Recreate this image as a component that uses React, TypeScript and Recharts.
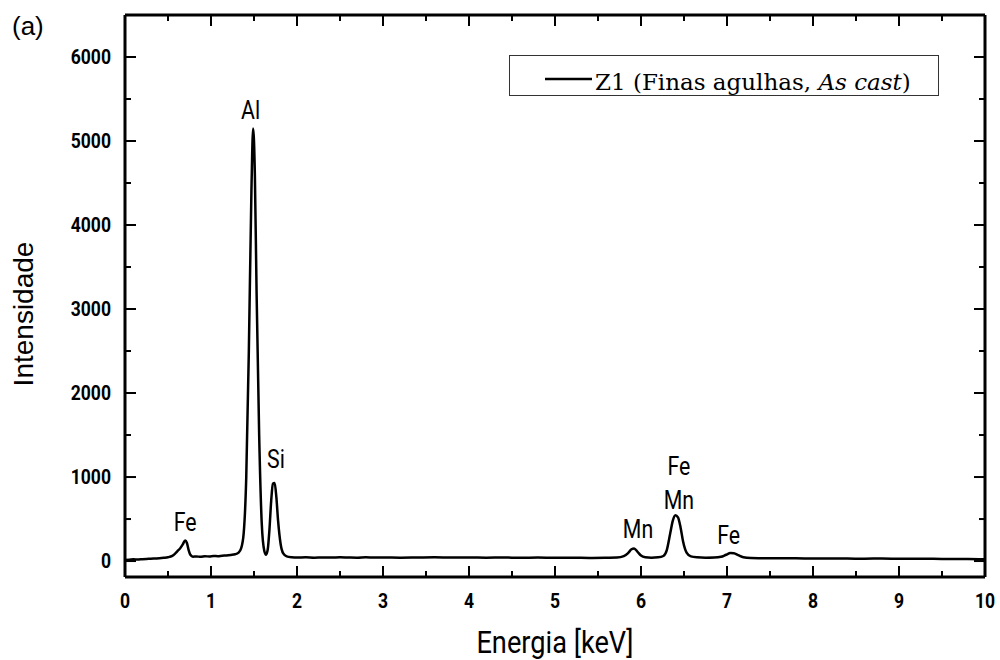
import { LineChart, Line, XAxis, YAxis, ReferenceDot, Legend, Label } from 'recharts'

// EDS spectrum, zone Z1
const energy = [
  0.0, 0.05, 0.1, 0.15, 0.2, 0.25, 0.3, 0.35, 0.4, 0.45, 0.5, 0.55, 0.58, 0.61, 0.64, 0.67, 0.7, 0.72, 0.74, 0.76,
  0.79, 0.83, 0.88, 0.93, 0.98, 1.03, 1.08, 1.13, 1.18, 1.23, 1.28, 1.32, 1.35, 1.38, 1.41, 1.44, 1.47, 1.49, 1.51,
  1.53, 1.56, 1.59, 1.62, 1.64, 1.66, 1.68, 1.7, 1.72, 1.74, 1.76, 1.78, 1.81, 1.84, 1.88, 1.94, 2.0, 2.1, 2.2, 2.3,
  2.4, 2.5, 2.6, 2.7, 2.8, 2.9, 3.0, 3.2, 3.4, 3.6, 3.8, 4.0, 4.2, 4.4, 4.6, 4.8, 5.0, 5.2, 5.4, 5.6, 5.72, 5.8, 5.85,
  5.89, 5.92, 5.96, 6.0, 6.05, 6.12, 6.2, 6.26, 6.3, 6.34, 6.37, 6.4, 6.43, 6.46, 6.49, 6.53, 6.58, 6.65, 6.75, 6.85,
  6.93, 6.99, 7.04, 7.08, 7.13, 7.19, 7.28, 7.4, 7.6, 7.8, 8.0, 8.2, 8.4, 8.6, 8.8, 9.0, 9.2, 9.4, 9.6, 9.8, 10.0,
]
const counts = [
  12, 15, 20, 18, 22, 25, 27, 30, 33, 38, 45, 62, 85, 118, 150, 195, 245, 215, 130, 75,
  52, 55, 50, 57, 54, 60, 58, 64, 66, 72, 80, 100, 150, 330, 1000, 2500, 4400, 5150, 4600,
  3200, 1500, 450, 120, 75, 140, 380, 720, 920, 930, 760, 480, 200, 90, 55, 45, 42, 44, 40, 43,
  41, 45, 42, 40, 44, 41, 43, 40, 42, 44, 41, 43, 40, 42, 39, 41, 38, 40, 37, 39, 41, 58, 95,
  140, 150, 110, 65, 45, 40, 44, 60, 130, 330, 480, 545, 520, 400, 230, 100, 55, 44, 40, 42,
  50, 75, 95, 92, 70, 45, 36, 34, 32, 33, 30, 31, 29, 28, 30, 27, 26, 27, 24, 25, 22,
]

const peakLabels = ['Fe', 'Al', 'Si', 'Mn', 'Fe', 'Mn', 'Fe']
const peakLabelX = [0.7, 1.46, 1.756, 5.965, 6.44, 6.44, 7.02]
const peakLabelY = [464, 5369, 1214, 381, 1131, 726, 315]

const xTicks = [0, 0.5, 1, 1.5, 2, 2.5, 3, 3.5, 4, 4.5, 5, 5.5, 6, 6.5, 7, 7.5, 8, 8.5, 9, 9.5, 10]
const yTicks = [0, 500, 1000, 1500, 2000, 2500, 3000, 3500, 4000, 4500, 5000, 5500, 6000]

const data = energy.map((e, i) => ({ e, z1: counts[i] }))

const SANS = '"Liberation Sans", Arial, sans-serif'
const COND = 'Roboto, sans-serif'
const SERIF = '"DejaVu Serif", serif'

const MAJOR = 11
const MINOR = 6

function BottomTick({ x, y, payload }: any) {
  const v = payload.value
  const major = v % 1 === 0
  return (
    <g>
      <line x1={x} x2={x} y1={y} y2={y - (major ? MAJOR : MINOR)} stroke="#000" strokeWidth={2} />
      {major && (
        <text
          transform={`translate(${x},${y + 31}) scale(0.9,1)`}
          textAnchor="middle"
          fontSize={19.5}
          fontWeight={700}
          fontFamily={COND}
          fill="#000"
        >
          {v}
        </text>
      )}
    </g>
  )
}

function TopTick({ x, y, payload }: any) {
  const major = payload.value % 1 === 0
  return <line x1={x} x2={x} y1={y} y2={y + (major ? MAJOR : MINOR)} stroke="#000" strokeWidth={2} />
}

function LeftTick({ x, y, payload }: any) {
  const v = payload.value
  const major = v % 1000 === 0
  return (
    <g>
      <line x1={x} x2={x + (major ? MAJOR : MINOR)} y1={y} y2={y} stroke="#000" strokeWidth={2} />
      {major && (
        <text
          transform={`translate(${x - 14},${y + 7}) scale(0.9,1)`}
          textAnchor="end"
          fontSize={19.5}
          fontWeight={700}
          fontFamily={COND}
          fill="#000"
        >
          {v}
        </text>
      )}
    </g>
  )
}

function RightTick({ x, y, payload }: any) {
  const major = payload.value % 1000 === 0
  return <line x1={x} x2={x - (major ? MAJOR : MINOR)} y1={y} y2={y} stroke="#000" strokeWidth={2} />
}

function PeakLabel({ viewBox, text }: any) {
  const cx = viewBox.x + viewBox.width / 2
  const cy = viewBox.y + viewBox.height / 2
  return (
    <text
      transform={`translate(${cx},${cy + 9}) scale(0.82,1)`}
      textAnchor="middle"
      fontSize={26}
      fontFamily={COND}
      fill="#000"
    >
      {text}
    </text>
  )
}

function LegendBox() {
  return (
    <svg width={430} height={41}>
      <rect x={0.5} y={0.5} width={429} height={40} fill="#fff" stroke="#333" strokeWidth={1} />
      <line x1={36} x2={83} y1={24} y2={24} stroke="#000" strokeWidth={2.5} />
      <text x={86} y={35} fontSize={23} fontFamily={SERIF} fill="#000">
        Z1 (Finas agulhas, <tspan fontStyle="italic">As cast</tspan>)
      </text>
    </svg>
  )
}

export default function App() {
  return (
    <div style={{ position: 'absolute', left: 0, top: 0, background: '#fff' }}>
      <LineChart width={1000} height={660} data={data} margin={{ top: 14, right: 14, left: 65, bottom: 0 }}>
        <XAxis
          dataKey="e"
          type="number"
          domain={[0, 10]}
          ticks={xTicks}
          interval={0}
          height={83}
          tickSize={0}
          tickMargin={0}
          tickLine={false}
          tick={<BottomTick />}
          axisLine={{ stroke: '#000', strokeWidth: 3 }}
        >
          <Label
            content={() => (
              <text
                transform="translate(555,653) scale(0.85,1)"
                textAnchor="middle"
                fontSize={32}
                fontFamily={COND}
                fill="#000"
              >
                Energia [keV]
              </text>
            )}
          />
        </XAxis>
        <XAxis
          xAxisId="top"
          orientation="top"
          dataKey="e"
          type="number"
          domain={[0, 10]}
          ticks={xTicks}
          interval={0}
          height={1}
          tickSize={0}
          tickMargin={0}
          tickLine={false}
          tick={<TopTick />}
          axisLine={{ stroke: '#000', strokeWidth: 3 }}
        />
        <YAxis
          type="number"
          domain={[-190, 6500]}
          allowDataOverflow
          ticks={yTicks}
          interval={0}
          width={60}
          tickSize={0}
          tickMargin={0}
          tickLine={false}
          tick={<LeftTick />}
          axisLine={{ stroke: '#000', strokeWidth: 3 }}
        >
          <Label
            content={() => (
              <text
                x={33}
                y={314}
                transform="rotate(-90, 33, 314)"
                textAnchor="middle"
                fontSize={28}
                fontFamily={SANS}
                fill="#000"
              >
                Intensidade
              </text>
            )}
          />
          <Label
            content={() => (
              <text x={12} y={35} fontSize={26} fontFamily={SANS} fill="#000">
                (a)
              </text>
            )}
          />
        </YAxis>
        <YAxis
          yAxisId="right"
          orientation="right"
          type="number"
          domain={[-190, 6500]}
          allowDataOverflow
          ticks={yTicks}
          interval={0}
          width={1}
          tickSize={0}
          tickMargin={0}
          tickLine={false}
          tick={<RightTick />}
          axisLine={{ stroke: '#000', strokeWidth: 3 }}
        />
        <Legend
          layout="horizontal"
          verticalAlign="middle"
          align="center"
          content={() => <LegendBox />}
          wrapperStyle={{ left: 509, top: 55, width: 430, height: 41 }}
        />
        <Line
          type="monotone"
          dataKey="z1"
          stroke="#000"
          strokeWidth={2.5}
          dot={false}
          isAnimationActive={false}
          name="Z1 (Finas agulhas, As cast)"
        />
        {peakLabels.map((t, i) => (
          <ReferenceDot
            key={i}
            x={peakLabelX[i]}
            y={peakLabelY[i]}
            r={0}
            stroke="none"
            fill="none"
            label={<PeakLabel text={t} />}
          />
        ))}
      </LineChart>
    </div>
  )
}
